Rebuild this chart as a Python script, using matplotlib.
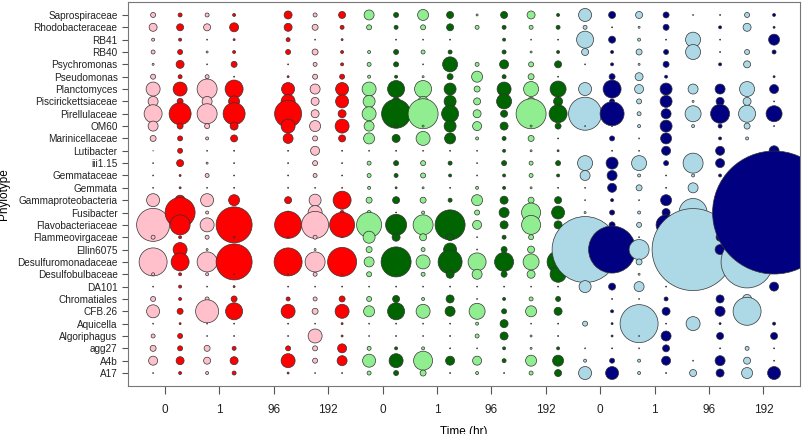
import numpy as np
import matplotlib
matplotlib.use("Agg")
import matplotlib.pyplot as plt

plt.rcParams['font.family'] = ['Liberation Sans', 'DejaVu Sans']

phylotypes = ["Saprospiraceae", "Rhodobacteraceae", "RB41", "RB40", "Psychromonas",
              "Pseudomonas", "Planctomyces", "Piscirickettsiaceae", "Pirellulaceae", "OM60",
              "Marinicellaceae", "Lutibacter", "iii1.15", "Gemmataceae", "Gemmata",
              "Gammaproteobacteria", "Fusibacter", "Flavobacteriaceae", "Flammeovirgaceae",
              "Ellin6075", "Desulfuromonadaceae", "Desulfobulbaceae", "DA101", "Chromatiales",
              "CFB.26", "Aquicella", "Algoriphagus", "agg27", "A4b", "A17"]
time_labels = ["0", "1", "96", "192"] * 3

# column slot on the x axis, fill colour, and bubble diameter per phylotype (top to bottom)
col_slot = [0, 1, 2, 3, 5, 6, 7, 8, 9, 10, 11, 12, 13, 14, 15, 16, 17, 18, 19, 20, 21, 22, 23]
col_color = ["pink", "red", "pink", "red", "red", "pink", "red",
             "lightgreen", "darkgreen", "lightgreen", "darkgreen",
             "lightgreen", "darkgreen", "lightgreen", "darkgreen",
             "lightblue", "navy", "lightblue", "navy", "lightblue", "navy", "lightblue", "navy"]
diam = [
    [5, 8, 3, 4, 2, 5, 14, 10, 18, 10, 6, 0.5, 1, 1, 1, 13, 5, 33, 4, 2, 28, 3, 1, 5, 13, 1, 4, 6, 9, 1],
    [4, 7, 3, 5, 8, 4, 14, 6, 22, 6, 5, 5, 7, 2, 2, 10, 30, 20, 3, 14, 18, 3, 3, 3, 6, 2, 5, 5, 8, 3],
    [4, 7, 1, 2, 1, 4, 20, 10, 20, 5, 3, 1, 2, 4, 1, 13, 3, 14, 4, 2, 20, 3, 1, 4, 23, 1, 1, 6, 7, 3],
    [3, 9, 2, 3, 6, 1, 18, 11, 22, 8, 7, 1, 1, 1, 1, 11, 8, 36, 2, 2, 36, 1, 2, 6, 17, 1, 1, 4, 8, 4],
    [8, 8, 4, 5, 1, 2, 13, 14, 27, 14, 10, 1, 1, 1, 1, 7, 3, 27, 1, 1, 28, 1, 1, 4, 14, 1, 1, 5, 14, 2],
    [4, 6, 1, 6, 4, 5, 10, 8, 8, 11, 5, 9, 5, 4, 1, 12, 14, 27, 4, 2, 20, 4, 1, 4, 6, 1, 14, 5, 5, 1],
    [7, 4, 2, 3, 3, 5, 13, 13, 8, 14, 7, 1, 1, 1, 1, 18, 4, 25, 1, 1, 29, 1, 1, 6, 14, 2, 2, 9, 10, 1],
    [10, 5, 0, 3, 4, 3, 14, 12, 14, 10, 11, 1, 4, 4, 3, 6, 4, 25, 12, 6, 10, 5, 1, 5, 11, 1, 1, 4, 13, 4],
    [5, 4, 1, 5, 5, 3, 17, 8, 29, 3, 8, 1, 5, 4, 2, 7, 1, 21, 8, 1, 30, 1, 1, 7, 17, 1, 1, 3, 14, 5],
    [11, 5, 1, 4, 1, 2, 17, 10, 30, 2, 14, 1, 5, 5, 2, 6, 3, 20, 7, 4, 14, 4, 1, 3, 14, 1, 1, 3, 19, 6],
    [7, 7, 1, 4, 15, 6, 12, 12, 17, 12, 11, 1, 4, 3, 1, 4, 4, 30, 7, 13, 24, 8, 1, 8, 10, 1, 1, 1, 9, 1],
    [2, 4, 0, 0, 4, 11, 6, 7, 8, 9, 3, 1, 1, 1, 3, 11, 5, 9, 1, 1, 18, 10, 1, 1, 16, 3, 4, 1, 9, 3],
    [7, 4, 3, 4, 9, 4, 14, 15, 7, 8, 4, 3, 5, 3, 3, 8, 10, 8, 4, 6, 19, 6, 1, 3, 5, 8, 8, 3, 4, 1],
    [8, 4, 1, 2, 5, 6, 15, 8, 30, 2, 6, 2, 4, 4, 2, 6, 19, 19, 5, 7, 16, 8, 1, 4, 11, 1, 2, 2, 11, 4],
    [3, 4, 1, 3, 7, 1, 16, 9, 18, 6, 1, 2, 5, 3, 1, 7, 13, 8, 5, 5, 22, 16, 1, 5, 8, 1, 1, 3, 11, 7],
    [13, 4, 17, 7, 1, 0, 13, 1, 33, 1, 0, 0, 15, 10, 1, 1, 2, 6, 3, 66, 0, 0, 12, 0, 0, 5, 0, 1, 3, 13],
    [7, 1, 7, 3, 3, 6, 18, 5, 24, 1, 5, 1, 12, 10, 9, 3, 5, 6, 2, 47, 0, 0, 7, 1, 3, 2, 2, 1, 5, 13],
    [7, 2, 3, 6, 2, 8, 9, 5, 4, 3, 1, 1, 15, 3, 6, 1, 3, 5, 1, 20, 6, 2, 10, 1, 1, 38, 1, 1, 3, 3],
    [6, 6, 1, 5, 6, 3, 12, 12, 10, 12, 11, 9, 5, 1, 1, 11, 8, 20, 5, 1, 1, 1, 1, 4, 8, 1, 10, 7, 9, 1],
    [1, 0, 15, 15, 0, 0, 10, 2, 16, 3, 0, 0, 20, 3, 10, 0, 28, 0, 0, 82, 0, 0, 0, 0, 0, 14, 0, 0, 1, 7],
    [1, 3, 1, 1, 3, 0, 10, 8, 19, 4, 3, 9, 9, 3, 2, 0, 10, 11, 8, 10, 0, 0, 0, 8, 10, 2, 7, 1, 10, 8],
    [5, 8, 0, 5, 7, 0, 15, 8, 17, 6, 3, 0, 3, 0, 1, 0, 0, 3, 0, 0, 52, 0, 0, 9, 28, 0, 0, 4, 7, 11],
    [3, 2, 11, 4, 0, 2, 9, 1, 16, 1, 0, 10, 10, 2, 2, 1, 123, 0, 0, 0, 0, 0, 9, 0, 0, 3, 7, 1, 1, 13],
]

fig = plt.figure(figsize=(8.02, 4.34), dpi=100)
ax = fig.add_axes([128 / 802, 48 / 434, 672 / 802, 384 / 434])

rows = np.arange(len(phylotypes))
for slot, color, d in zip(col_slot, col_color, diam):
    d = np.array(d, float)
    keep = d > 0
    ax.scatter(np.full(keep.sum(), slot), rows[keep], s=(d[keep] * 0.72) ** 2,
               c=color, edgecolors="#333333", linewidths=0.5, zorder=2)

ax.set_xlim(-0.93, 23.96)
ax.set_ylim(30.05, -1.05)
ax.set_yticks(rows)
ax.set_yticklabels(phylotypes, fontsize=7.2)
ax.set_xticks(0.44 + 2.015 * np.arange(12))
ax.set_xticklabels(time_labels, fontsize=8.5)
for s in ax.spines.values():
    s.set_color("#777777")
ax.tick_params(colors="#555555", labelcolor="#222222", length=4)
ax.tick_params(axis="x", length=6, pad=7)
ax.set_xlabel("Time (hr)", fontsize=8.5)
ax.xaxis.set_label_coords(0.5, -0.105)
ax.set_ylabel("Phylotype", fontsize=8.5)
ax.yaxis.set_label_coords(-0.175, 0.5)
fig.savefig("out.png", dpi=100)
